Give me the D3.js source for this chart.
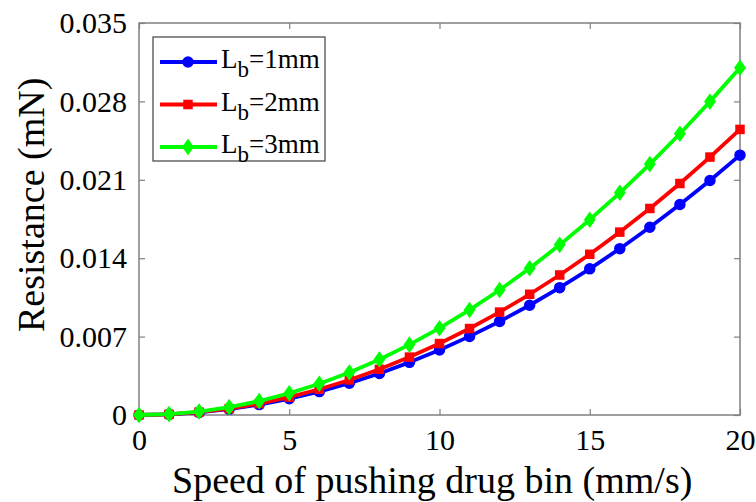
<!DOCTYPE html>
<html>
<head>
<meta charset="utf-8">
<script src="https://cdn.jsdelivr.net/npm/d3@7"></script>
<style>
  body { margin: 0; background: #fff; }
  text { font-family: "Liberation Serif", "Times New Roman", serif; }
</style>
</head>
<body>
<svg id="chart" width="756" height="502"></svg>
<script>
// speed of pushing drug bin (mm/s)
var speed = [0, 1, 2, 3, 4, 5, 6, 7, 8, 9, 10, 11, 12, 13, 14, 15, 16, 17, 18, 19, 20];

// resistance (mN)
var lb1 = [0, 0.00006, 0.00023, 0.00052, 0.00093, 0.00145, 0.00209, 0.00284, 0.00371, 0.0047, 0.0058,
  0.00702, 0.00835, 0.0098, 0.01137, 0.01305, 0.01485, 0.01676, 0.01879, 0.02094, 0.0232];
var lb2 = [0, 0.00006, 0.00026, 0.00057, 0.00102, 0.0016, 0.0023, 0.00313, 0.00408, 0.00517, 0.00638,
  0.00772, 0.00919, 0.01078, 0.0125, 0.01435, 0.01633, 0.01844, 0.02067, 0.02303, 0.0255];
var lb3 = [0, 0.00008, 0.00031, 0.0007, 0.00124, 0.00194, 0.00279, 0.0038, 0.00496, 0.00628, 0.00775,
  0.00938, 0.01116, 0.0131, 0.01519, 0.01744, 0.01984, 0.0224, 0.02511, 0.02798, 0.031];

var xTicks = [0, 5, 10, 15, 20];
var yTicks = [0, 0.007, 0.014, 0.021, 0.028, 0.035];
var names = ['1mm', '2mm', '3mm'];

var series = [
  { name: names[0], values: lb1, color: '#0000ff', marker: 'circle' },
  { name: names[1], values: lb2, color: '#ff0000', marker: 'square' },
  { name: names[2], values: lb3, color: '#00ff00', marker: 'diamond' }
];

var svg = d3.select('#chart');
var plotL = 139, plotR = 740, plotT = 23, plotB = 415;

var x = d3.scaleLinear().domain([0, 20]).range([plotL, plotR]);
var y = d3.scaleLinear().domain([0, 0.035]).range([plotB, plotT]);

var axisColor = '#808080';

// box
svg.append('rect')
  .attr('x', plotL).attr('y', plotT)
  .attr('width', plotR - plotL).attr('height', plotB - plotT)
  .attr('fill', 'none').attr('stroke', axisColor).attr('stroke-width', 1.5);

// axes (ticks pointing inward)
function styleAxis(g) {
  g.select('.domain').remove();
  g.selectAll('.tick line').attr('stroke', axisColor).attr('stroke-width', 1.2);
  g.selectAll('.tick text')
    .attr('fill', '#000')
    .style('font-family', '"Liberation Serif", serif')
    .style('font-size', '30px');
}

svg.append('g')
  .attr('transform', 'translate(0,' + plotB + ')')
  .call(d3.axisBottom(x).tickValues(xTicks).tickSize(-6).tickPadding(14).tickFormat(d3.format('d')))
  .call(styleAxis);

svg.append('g')
  .attr('transform', 'translate(0,' + plotT + ')')
  .call(d3.axisTop(x).tickValues(xTicks).tickSize(-6).tickFormat(''))
  .call(styleAxis);

svg.append('g')
  .attr('transform', 'translate(' + plotL + ',0)')
  .call(d3.axisLeft(y).tickValues(yTicks).tickSize(-6).tickPadding(12)
    .tickFormat(function(d) { return d === 0 ? '0' : d3.format('.3f')(d); }))
  .call(styleAxis);

svg.append('g')
  .attr('transform', 'translate(' + plotR + ',0)')
  .call(d3.axisRight(y).tickValues(yTicks).tickSize(-6).tickFormat(''))
  .call(styleAxis);

// axis titles
svg.append('text')
  .attr('x', 172).attr('y', 493)
  .style('font-size', '38px')
  .text('Speed of pushing drug bin (mm/s)');

svg.append('text')
  .attr('transform', 'translate(44,332) rotate(-90)')
  .style('font-size', '38px')
  .text('Resistance (mN)');

// markers
function drawMarker(g, type, color) {
  if (type === 'circle') {
    g.append('circle').attr('r', 5).attr('fill', color).attr('stroke', color).attr('stroke-width', 1.5);
  } else if (type === 'square') {
    g.append('rect').attr('x', -4).attr('y', -4).attr('width', 8).attr('height', 8)
      .attr('fill', color).attr('stroke', color).attr('stroke-width', 1.5);
  } else {
    g.append('path').attr('d', 'M0,-7L5,0L0,7L-5,0Z')
      .attr('fill', color).attr('stroke', color).attr('stroke-width', 1.5);
  }
}

var line = d3.line()
  .x(function(d, i) { return x(speed[i]); })
  .y(function(d) { return y(d); });

series.forEach(function(s) {
  svg.append('path')
    .datum(s.values)
    .attr('d', line)
    .attr('fill', 'none')
    .attr('stroke', s.color)
    .attr('stroke-width', 3.8)
    .attr('stroke-linejoin', 'round');

  s.values.forEach(function(v, i) {
    var g = svg.append('g').attr('transform', 'translate(' + x(speed[i]) + ',' + y(v) + ')');
    drawMarker(g, s.marker, s.color);
  });
});

// legend
var legend = svg.append('g');
legend.append('rect')
  .attr('x', 153).attr('y', 37).attr('width', 172).attr('height', 124)
  .attr('fill', '#fff').attr('stroke', '#404040').attr('stroke-width', 1.2);

series.forEach(function(s, i) {
  var ly = 62 + i * 42.5;
  legend.append('line')
    .attr('x1', 160).attr('x2', 217).attr('y1', ly).attr('y2', ly)
    .attr('stroke', s.color).attr('stroke-width', 3.8);
  var g = legend.append('g').attr('transform', 'translate(188,' + ly + ')');
  drawMarker(g, s.marker, s.color);

  var t = legend.append('text')
    .attr('x', 221).attr('y', ly + 6)
    .style('font-size', '27px');
  t.append('tspan').text('L');
  t.append('tspan').attr('dy', 9).style('font-size', '23px').text('b');
  t.append('tspan').attr('dy', -9).text('=' + s.name);
});
</script>
</body>
</html>
